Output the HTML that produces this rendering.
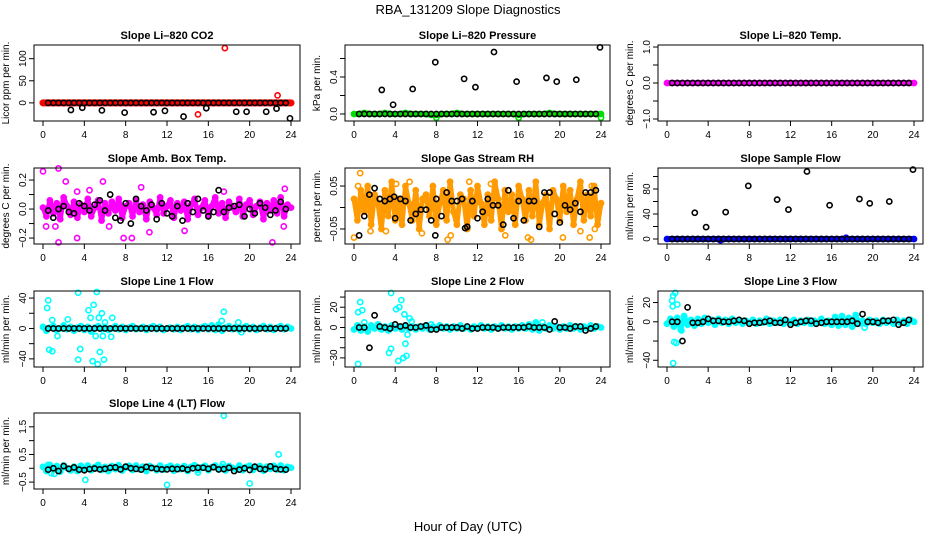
<!DOCTYPE html>
<html><head><meta charset="utf-8"><title>RBA_131209 Slope Diagnostics</title>
<style>
html,body{margin:0;padding:0;background:#fff;}
svg{display:block;font-family:"Liberation Sans",sans-serif;}
</style></head>
<body>
<svg id="chart" width="936" height="540" viewBox="0 0 936 540" xmlns="http://www.w3.org/2000/svg">
<text x="468" y="14" text-anchor="middle" font-size="13">RBA_131209  Slope Diagnostics</text>
<text x="468" y="531" text-anchor="middle" font-size="13">Hour of Day (UTC)</text>
</svg>
<script>
// ---------- data ----------
const xTickLabels = [0,4,8,12,16,20,24];
const blackHours = [0.5,1,1.5,2,2.5,3,3.5,4,4.5,5,5.5,6,6.5,7,7.5,8,8.5,9,9.5,10,10.5,11,11.5,12,12.5,13,13.5,14,14.5,15,15.5,16,16.5,17,17.5,18,18.5,19,19.5,20,20.5,21,21.5,22,22.5,23,23.5];

// CO2
const co2Bg = [0,0,0,0,0,0,0,0,0,0,0,0,0,0,0,0,0,0,0,0,0,0,0,0,0,0,0,0,0,0,0,0,0,0,0,0,0,0,0,0,0,0,0,0,0,0,0,0,0];
const co2BgOut = [[15,-26],[17.6,124],[22.7,17]];
const co2Black = [0,0,0,0,0,0,0,0,0,0,0,0,0,0,0,0,0,0,0,0,0,0,0,0,0,0,0,0,0,0,0,0,0,0,0,0,0,0,0,0,0,0,0,0,0,0,0];
const co2BlackOut = [[2.7,-16],[3.8,-11],[5.7,-17],[7.9,-22],[10.7,-21],[11.8,-18],[13.6,-31],[15.8,-12],[18.7,-20],[19.7,-20],[21.6,-20],[22.6,-13],[23.9,-35]];
// Pressure
const presBg = [0,0,0.01,0,0,0,0.01,0,0,0,0.01,0,0,0,0,-0.01,-0.01,0,0,0,0.01,0,0,0,0,0,0,0,0,0,0,0,-0.01,0,0,0,0,0,0.01,0,0,0,0,0,0,0,0,0,0];
const presBgOut = [[8,-0.04],[16,-0.04],[24,-0.04]];
const presBlack = co2Black;
const presBlackOut = [[2.7,0.26],[3.8,0.1],[5.7,0.27],[7.9,0.56],[10.7,0.38],[11.8,0.29],[13.6,0.67],[15.8,0.35],[18.7,0.39],[19.7,0.35],[21.6,0.37],[23.9,0.72]];
// Temp
const tempBg = co2Bg;
const tempBgOut = [];
const tempBlack = co2Black;
const tempBlackOut = [];
// Amb box
const ambBg = [0.01,-0.05,0.06,-0.03,0.04,-0.07,0.08,0.02,-0.04,0.05,-0.06,0.03,-0.02,0.07,-0.05,0.01,0.06,-0.08,0.04,-0.03,0.05,-0.01,0.07,-0.06,0.02,0.04,-0.05,0.06,-0.02,0.03,-0.07,0.05,0.01,-0.04,0.08,-0.03,0.02,0.06,-0.06,0.04,-0.01,0.05,-0.07,0.03,0.07,-0.04,0.01,0.06,-0.05,0.02,0.08,-0.03,0.04,-0.06,0.05,0.01,-0.02,0.07,-0.05,0.03,0.06,-0.04,0.02,0.05,-0.07,0.04,-0.01,0.06,-0.03,0.08,-0.05,0.03,0.01];
const ambBgOut = [[0,0.26],[1.5,0.28],[1.5,-0.23],[0.3,-0.12],[2.2,0.19],[3.3,0.12],[3.3,-0.2],[4.5,0.13],[5.8,0.19],[7.8,-0.2],[8.6,-0.2],[10.3,-0.16],[13.7,-0.15],[17.5,0.12],[22.2,-0.23],[23.4,0.14],[23.3,-0.12],[9.5,0.15],[1.2,-0.12],[6.4,-0.12]];
const ambBlack = [-0.01,-0.06,0,0.02,-0.02,-0.03,0.04,0.02,-0.01,0.03,0.06,-0.01,0.1,-0.06,-0.08,0.04,-0.1,0.07,0.02,-0.01,0.03,-0.07,0.04,-0.03,-0.05,0.02,-0.08,0.04,-0.02,0.07,-0.01,-0.05,-0.02,0.13,-0.02,0.01,0.02,0.03,-0.05,0,-0.03,0.04,0.01,-0.04,-0.01,0.05,0];
const ambBlackOut = [];
// RH
const rhBg = [0.02,-0.03,0.04,-0.01,0.05,-0.04,0.03,0.01,-0.05,0.04,-0.02,0.06,-0.03,0.02,-0.04,0.05,0.01,-0.03,0.04,-0.05,0.02,0.03,-0.02,0.05,-0.04,0.01,0.04,-0.03,0.06,-0.01,-0.04,0.03,0.02,-0.05,0.04,-0.02,0.05,0.01,-0.04,0.03,-0.03,0.06,0.02,-0.05,0.04,-0.01,0.03,-0.04,0.05,0.02,-0.03,0.04,-0.02,0.06,-0.04,0.01,0.03,-0.05,0.04,0.02,-0.03,0.05,-0.01,0.04,-0.04,0.02,0.06,-0.03,0.03,-0.02,0.05,-0.04,0.01];
const rhBgOut = [[0,-0.07],[0.6,0.08],[0.4,0.05],[1.6,-0.055],[3.1,-0.055],[6.6,-0.06],[9.1,-0.075],[9.4,-0.065],[11.2,0.06],[13.3,0.055],[14.7,-0.065],[16.9,-0.07],[17.2,-0.075],[20.3,-0.07],[22,-0.055],[22.9,-0.07],[23.1,0.05],[23.4,-0.05],[4.1,0.055],[5.4,0.06]];
const rhBlack = [-0.065,-0.02,0.03,0.045,0.02,0.015,0.02,-0.025,0.02,0.015,-0.03,-0.015,-0.005,-0.005,-0.03,0.02,-0.02,0.035,0.015,0.015,0.02,-0.045,0.015,-0.025,-0.01,0.02,0.005,0.005,-0.04,0.04,-0.025,0.015,-0.03,0.015,0.015,-0.045,0.035,0.035,-0.015,-0.035,0.005,-0.005,0.01,-0.01,0.035,0.035,0.04];
const rhBlackOut = [[7.9,-0.065],[10.8,-0.048],[3.9,0.025]];
// Sample flow
const sfBg = co2Bg;
const sfBgOut = [[17.4,2],[5.2,-2]];
const sfBlack = co2Black;
const sfBlackOut = [[2.7,42],[3.8,19],[5.7,43],[7.9,85],[10.7,63],[11.8,47],[13.6,108],[15.8,54],[18.7,64],[19.7,57],[21.6,60],[23.9,111]];
// Line 1
const l1Bg = [2,-3,1,3,-2,0,4,-1,2,-3,1,3,-2,2,-4,1,3,-1,2,-2,0,3,-1,2,-2,1,3,-1,0,2,-2,1,3,-1,2,-2,0,1,-1,2,-2,1,3,-1,2,-2,1,3,-1,4,-2,5,-3,1,3,-1,2,-2,1,3,-1,2,-2,1,3,-1,2,-2,1,3,-1,2,0];
const l1BgOut = [[0.4,27],[0.5,37],[0.6,-28],[0.9,-30],[0.9,11],[1.4,-10],[2.4,12],[3.4,47],[3.4,-41],[3.6,-27],[4.4,24],[4.6,14],[4.8,-43],[4.9,31],[5.1,-10],[5.2,48],[5.3,-47],[5.4,14],[5.5,-31],[5.7,20],[5.8,-10],[5.9,-41],[6.0,8],[6.6,-11],[6.7,14],[17.5,22],[17.3,10],[18.9,8],[19.2,-5]];
const l1Black = co2Black;
const l1BlackOut = [];
// Line 2
const l2Bg = [-2,2,-3,1,-4,2,-1,3,-2,1,-3,2,-1,1,-2,2,-1,1,-2,1,-1,2,-2,1,-1,2,-1,1,-2,1,-1,2,-1,1,-2,1,-1,2,-1,1,-2,1,-1,2,-1,1,-2,1,-1,2,-1,3,-2,5,-3,1,-1,2,-1,1,-2,1,-1,2,-1,1,-2,1,-1,2,-1,1,0];
const l2BgOut = [[0.4,-36],[0.4,15],[0.6,25],[0.8,17],[1.0,5],[3.4,-25],[3.6,-21],[3.6,34],[4.1,18],[4.3,-33],[4.4,20],[4.6,27],[4.8,-30],[4.9,13],[5.0,-16],[5.1,-28],[5.2,-7],[5.4,9],[5.6,6],[7.5,3],[18.3,5]];
const l2Black = [0,0,-20,12,1,0,-1,3,1,2,0,0,1,2,-2,-2,0,0,0,0,-1,1,-1,-1,0,0,0,-1,0,0,0,0,0,1,0,0,0,-2,6,0,0,-1,1,1,-3,-1,1];
const l2BlackOut = [];
// Line 3
const l3Bg = [-2,3,-5,4,-8,6,-3,2,-4,3,-2,4,-1,2,-3,3,-1,2,-2,3,-1,2,-2,1,-1,2,-2,1,-1,3,-2,1,-1,2,-2,1,-1,2,-2,1,-1,2,-2,1,-1,3,-2,1,-3,5,-4,6,-3,4,-5,7,-2,1,-2,2,-1,1,-2,2,-1,1,-2,2,-1,1,-2,2,0];
const l3BgOut = [[0.5,22],[0.55,16],[0.6,27],[0.7,-21],[0.8,30],[0.9,-22],[0.6,-43],[1.0,18],[1.4,-9],[19.2,-6]];
const l3Black = [0,0,-20,15,-1,-1,0,3,1,1,0,0,1,2,1,-2,-1,-1,0,1,-1,-1,2,-3,-1,0,1,1,-2,-1,0,0,0,0,0,1,-2,8,0,0,-1,1,1,2,-3,-1,2];
const l3BlackOut = [];
// Line 4
const l4Bg = [0.05,-0.1,0.12,-0.05,0.08,-0.12,0.1,0,-0.08,0.06,-0.1,0.09,-0.04,0.1,-0.07,0.04,0.12,-0.06,0.05,-0.1,0.08,-0.03,0.11,-0.08,0.02,0.09,-0.06,0.1,-0.04,0.06,-0.1,0.08,0.02,-0.07,0.1,-0.05,0.04,0.09,-0.09,0.06,-0.03,0.08,-0.1,0.05,0.11,-0.06,0.03,0.09,-0.07,0.04,0.1,-0.05,0.06,-0.08,0.08,0.02,-0.04,0.1,-0.07,0.05,0.09,-0.06,0.04,0.08,-0.09,0.06,-0.02,0.09,-0.05,0.1,-0.07,0.05,0.02];
const l4BgOut = [[0.5,0.12],[1.1,-0.2],[4.1,-0.42],[12,-0.6],[17.4,0.15],[17.5,1.9],[20,-0.55],[22.8,0.5],[15,-0.15],[0.8,-0.18]];
const l4Black = [-0.05,0,-0.1,0.08,-0.02,0.03,-0.05,-0.07,-0.03,-0.01,-0.04,-0.02,0.02,0.03,-0.04,0.06,0,-0.02,-0.05,0.05,0.01,-0.02,-0.04,-0.04,-0.02,-0.03,-0.01,-0.05,0,0.02,0.02,-0.02,0.04,-0.04,-0.03,0.02,-0.1,-0.05,0,-0.06,0.06,-0.02,-0.04,0.07,-0.02,-0.04,-0.05];
const l4BlackOut = [];

// y tick values & labels per panel
const co2Ticks = [0,50,100];            const co2TickLabels = ["0","50","100"];
const presTicks = [0,0.2,0.4,0.6];      const presTickLabels = ["0.0","","0.4",""];
const tempTicks = [-1,-0.5,0,0.5,1];    const tempTickLabels = ["\u22121.0","","0.0","","1.0"];
const ambTicks = [-0.2,-0.1,0,0.1,0.2]; const ambTickLabels = ["\u22120.2","","0.0","","0.2"];
const rhTicks = [-0.05,0,0.05];         const rhTickLabels = ["\u22120.05","","0.05"];
const sfTicks = [0,20,40,60,80,100];    const sfTickLabels = ["0","","40","","80",""];
const l1Ticks = [-40,-20,0,20,40];      const l1TickLabels = ["\u221240","","0","","40"];
const l2Ticks = [-30,-20,-10,0,10,20,30]; const l2TickLabels = ["\u221230","","","0","","20",""];
const l3Ticks = [-40,-20,0,20];         const l3TickLabels = ["\u221240","","0","20"];
const l4Ticks = [-0.5,0,0.5,1,1.5];     const l4TickLabels = ["\u22120.5","","0.5","","1.5"];

// ---------- layout ----------
const svg = document.getElementById('chart');
const NS = 'http://www.w3.org/2000/svg';
const cols = [[34,300],[345,610],[658,923]];
const rows = [45,168,291,413];
const PH = 76;
function mk(tag, attrs, parent){ const e=document.createElementNS(NS,tag); for(const k in attrs) e.setAttribute(k,attrs[k]); (parent||svg).appendChild(e); return e; }

const panels = [
 {name:'co2',title:'Slope Li\u2013820 CO2',ylab:'Licor ppm per min.',c:0,r:0,ymin:-41,ymax:131,bg:co2Bg,bgOut:co2BgOut,bk:co2Black,bkOut:co2BlackOut,col:'#ff0000',bw:7,ticks:co2Ticks,tl:co2TickLabels},
 {name:'pressure',title:'Slope Li\u2013820 Pressure',ylab:'kPa per min.',c:1,r:0,ymin:-0.076,ymax:0.746,bg:presBg,bgOut:presBgOut,bk:presBlack,bkOut:presBlackOut,col:'#00dd00',bw:6,ticks:presTicks,tl:presTickLabels},
 {name:'temp',title:'Slope Li\u2013820 Temp.',ylab:'degrees C per min.',c:2,r:0,ymin:-1.056,ymax:1.056,bg:tempBg,bgOut:tempBgOut,bk:tempBlack,bkOut:tempBlackOut,col:'#ff00ff',bw:6,ticks:tempTicks,tl:tempTickLabels},
 {name:'amb-box-temp',title:'Slope Amb. Box Temp.',ylab:'degrees C per min.',c:0,r:1,ymin:-0.241,ymax:0.283,bg:ambBg,bgOut:ambBgOut,bk:ambBlack,bkOut:ambBlackOut,col:'#ff00ff',bw:5,ticks:ambTicks,tl:ambTickLabels},
 {name:'gas-stream-rh',title:'Slope Gas Stream RH',ylab:'percent per min.',c:1,r:1,ymin:-0.085,ymax:0.092,bg:rhBg,bgOut:rhBgOut,bk:rhBlack,bkOut:rhBlackOut,col:'#ff9a00',bw:5,ticks:rhTicks,tl:rhTickLabels},
 {name:'sample-flow',title:'Slope Sample Flow',ylab:'ml/min per min.',c:2,r:1,ymin:-8,ymax:113.6,bg:sfBg,bgOut:sfBgOut,bk:sfBlack,bkOut:sfBlackOut,col:'#0000ff',bw:6,ticks:sfTicks,tl:sfTickLabels},
 {name:'line1-flow',title:'Slope Line 1 Flow',ylab:'ml/min per min.',c:0,r:2,ymin:-50.7,ymax:49.3,bg:l1Bg,bgOut:l1BgOut,bk:l1Black,bkOut:l1BlackOut,col:'#00ffff',bw:5,ticks:l1Ticks,tl:l1TickLabels},
 {name:'line2-flow',title:'Slope Line 2 Flow',ylab:'ml/min per min.',c:1,r:2,ymin:-39,ymax:36,bg:l2Bg,bgOut:l2BgOut,bk:l2Black,bkOut:l2BlackOut,col:'#00ffff',bw:5,ticks:l2Ticks,tl:l2TickLabels},
 {name:'line3-flow',title:'Slope Line 3 Flow',ylab:'ml/min per min.',c:2,r:2,ymin:-47,ymax:32,bg:l3Bg,bgOut:l3BgOut,bk:l3Black,bkOut:l3BlackOut,col:'#00ffff',bw:5,ticks:l3Ticks,tl:l3TickLabels},
 {name:'line4-flow',title:'Slope Line 4 (LT) Flow',ylab:'ml/min per min.',c:0,r:3,ymin:-0.75,ymax:2.0,bg:l4Bg,bgOut:l4BgOut,bk:l4Black,bkOut:l4BlackOut,col:'#00ffff',bw:5,ticks:l4Ticks,tl:l4TickLabels}
];

panels.forEach(p=>{
  const L=cols[p.c][0], R=cols[p.c][1], T=rows[p.r], B=T+PH;
  const xs = h => (L+9) + h*(R-L-18)/24;
  const ys = v => B - (v-p.ymin)*(PH)/(p.ymax-p.ymin);
  const g = mk('g',{});
  
  
  const t = mk('text',{x:(L+R)/2,y:T-6,'text-anchor':'middle','font-size':'11','font-weight':'bold'},g);
  t.textContent = p.title;
  
  
  const yl = mk('text',{x:0,y:0,'text-anchor':'middle','font-size':'10',transform:`translate(${L-25},${T+PH/2}) rotate(-90)`},g);
  yl.textContent = p.ylab;
  
  
  // marks
  const marks = mk('g',{fill:'none','stroke-width':'1.6'},g);
  
  
  const n = p.bg.length;
  const pts = p.bg.map((v,i)=>xs(i*24/(n-1)).toFixed(1)+','+ys(v).toFixed(1)).join(' ');
  const cloud = mk('polyline',{points:pts,fill:'none',stroke:p.col,'stroke-width':p.bw,'stroke-linejoin':'round','stroke-linecap':'round'},marks);
  
  
  p.bg.forEach((v,i)=>{
    const c = mk('circle',{cx:xs(i*24/(n-1)),cy:ys(v),r:2.6,stroke:p.col},marks);
    
    
  });
  p.bgOut.forEach(o=>{
    const c = mk('circle',{cx:xs(o[0]),cy:ys(o[1]),r:2.6,stroke:p.col},marks);
    
    
  });
  p.bk.forEach((v,i)=>{
    const c = mk('circle',{cx:xs(blackHours[i]),cy:ys(v),r:2.6,stroke:'#000'},marks);
    
    
  });
  p.bkOut.forEach(o=>{
    const c = mk('circle',{cx:xs(o[0]),cy:ys(o[1]),r:2.6,stroke:'#000'},marks);
    
    
  });
  // box
  const box = mk('rect',{x:L,y:T,width:R-L,height:PH,fill:'none',stroke:'#000','stroke-width':'1'},g);
  
  
  // x axis
  xTickLabels.forEach(h=>{
    const x=xs(h);
    const tk = mk('line',{x1:x,y1:B,x2:x,y2:B+5,stroke:'#000'},g);
    
    
    const tx = mk('text',{x:x,y:B+17,'text-anchor':'middle','font-size':'10'},g);
    tx.textContent = h;
    
    
  });
  // y axis
  p.ticks.forEach((v,i)=>{
    const y=ys(v);
    const tk = mk('line',{x1:L-5,y1:y,x2:L,y2:y,stroke:'#000'},g);
    
    
    if(p.tl[i]){
      const tx = mk('text',{x:0,y:0,'text-anchor':'middle','font-size':'10',transform:`translate(${L-8},${y}) rotate(-90)`},g);
      tx.textContent = p.tl[i];
      
      
    }
  });
});
</script>
</body></html>
